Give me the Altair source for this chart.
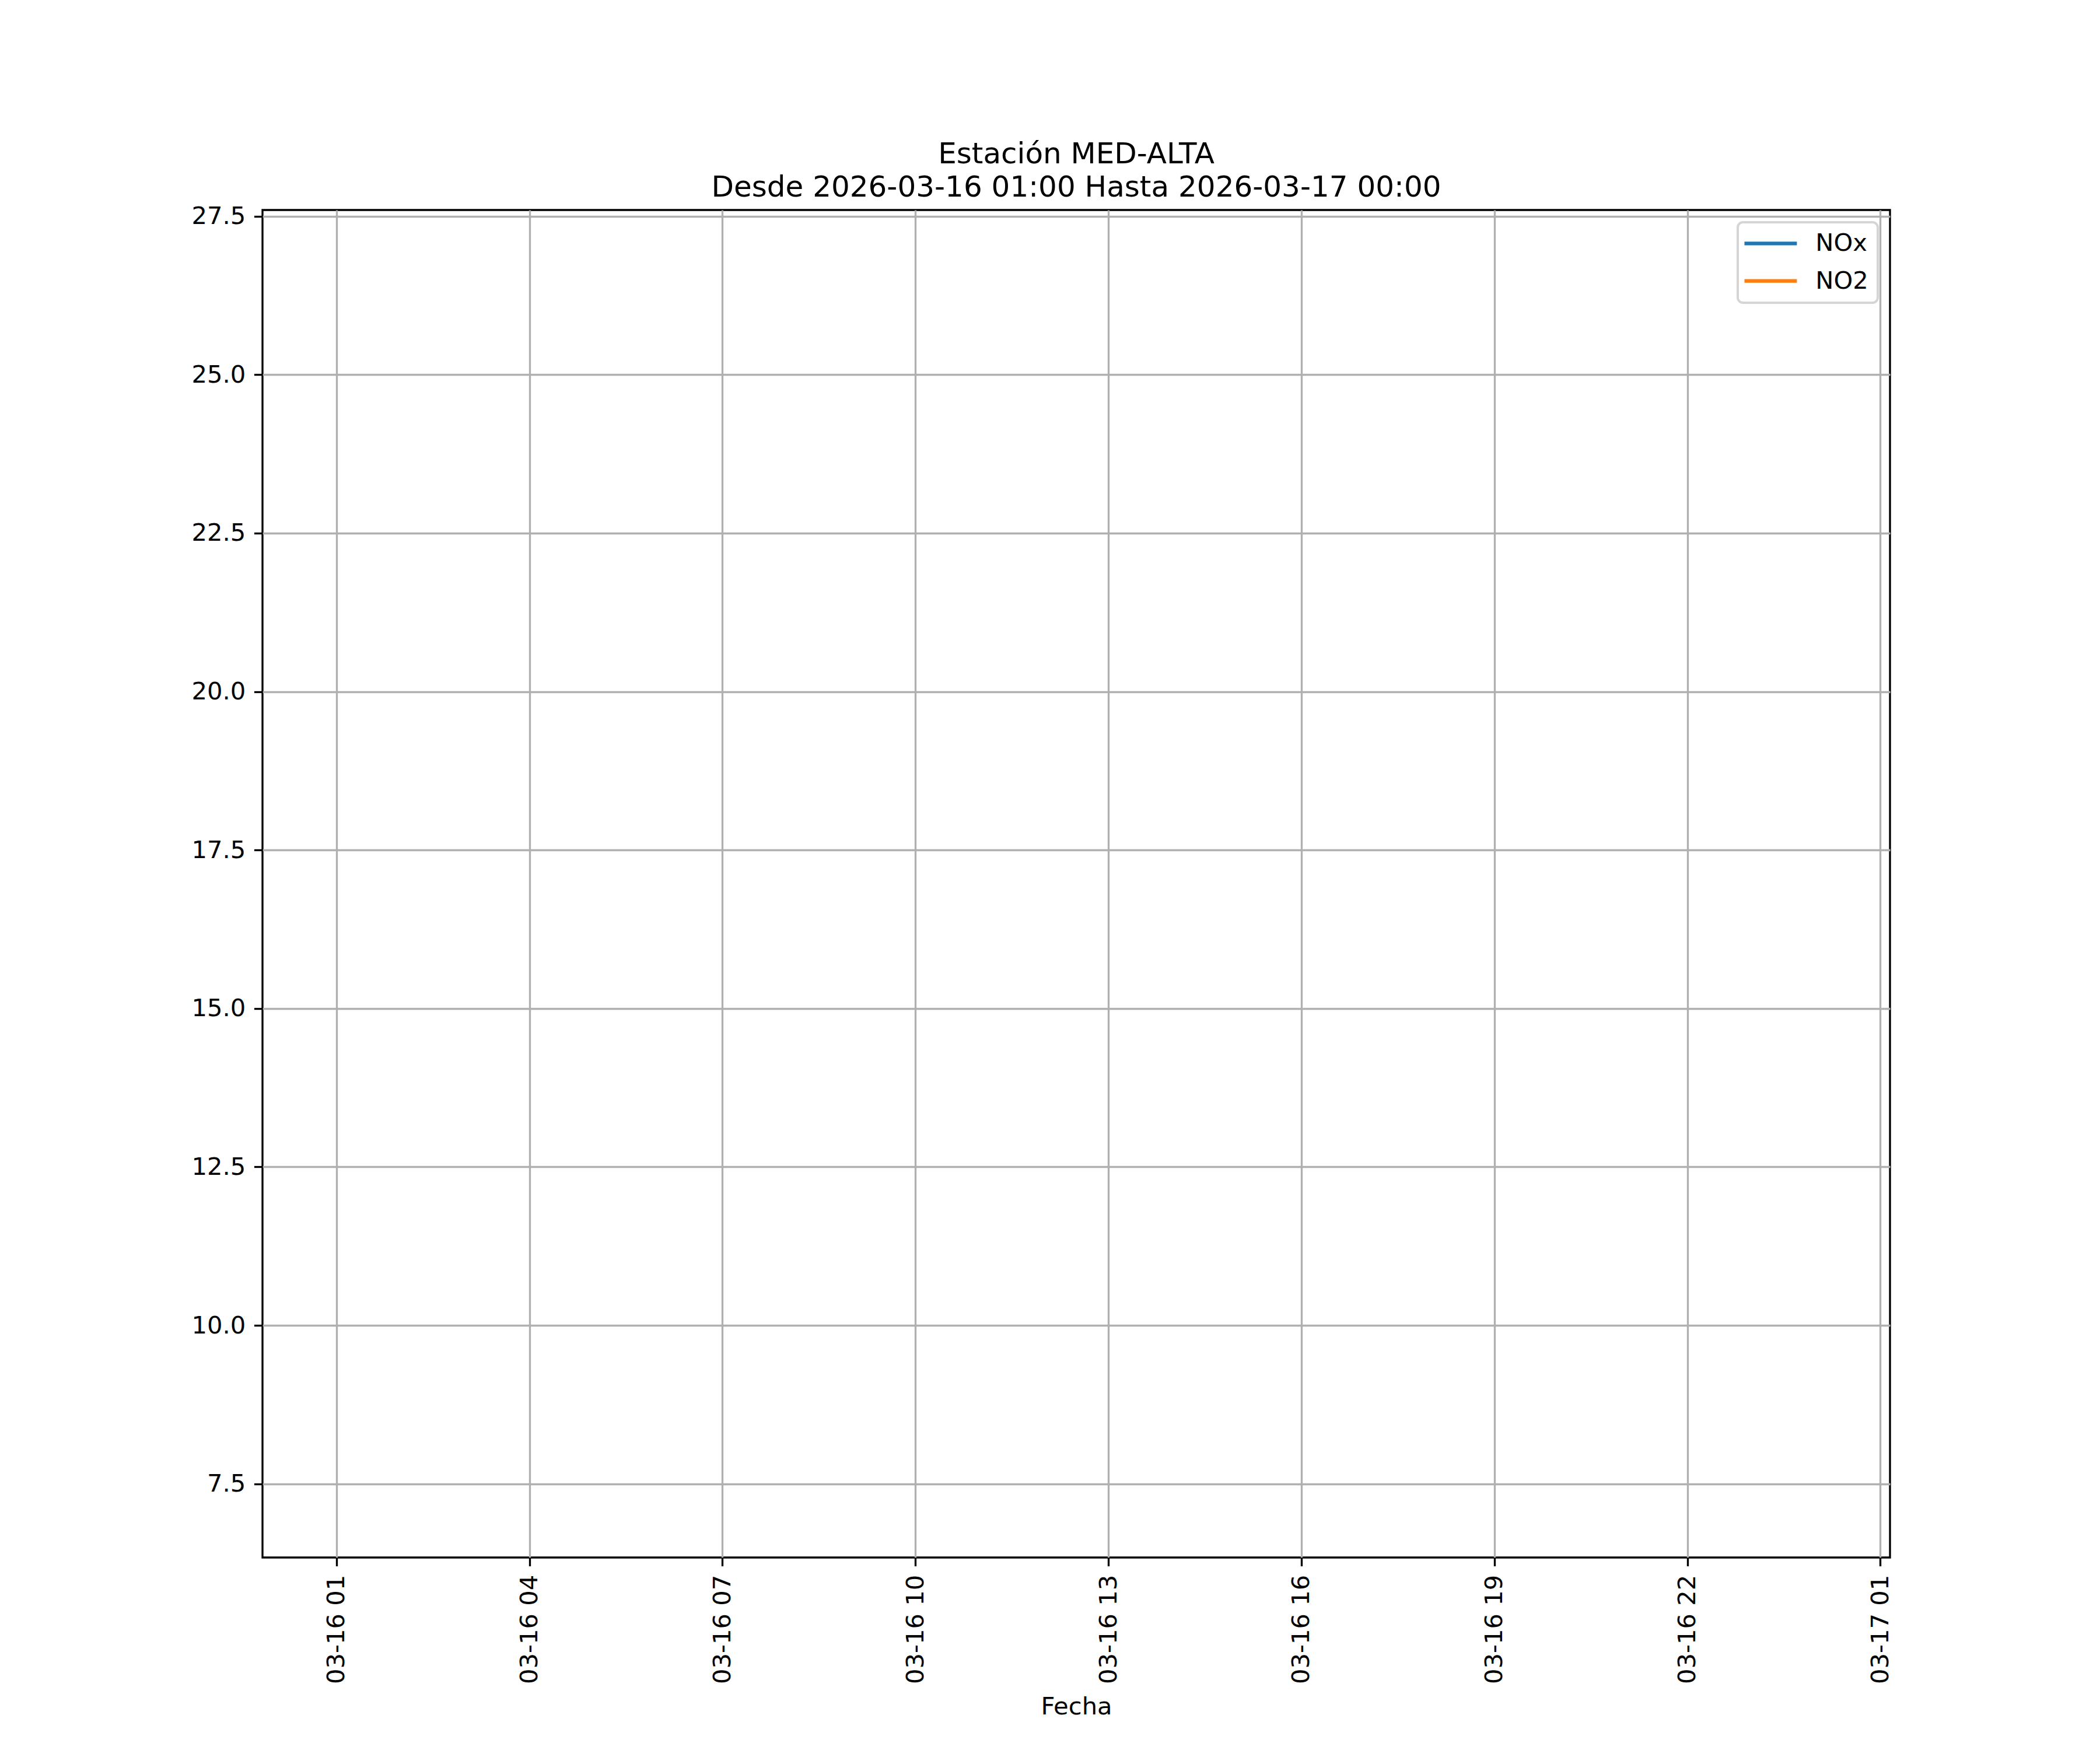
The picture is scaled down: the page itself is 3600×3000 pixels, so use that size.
import altair as alt
import pandas as pd

# ---- data (no line segments are visible) ----
fechas = [
    "2026-03-16T01:00:00", "2026-03-16T02:00:00", "2026-03-16T03:00:00",
    "2026-03-16T04:00:00", "2026-03-16T05:00:00", "2026-03-16T06:00:00",
    "2026-03-16T07:00:00", "2026-03-16T08:00:00", "2026-03-16T09:00:00",
    "2026-03-16T10:00:00", "2026-03-16T11:00:00", "2026-03-16T12:00:00",
    "2026-03-16T13:00:00", "2026-03-16T14:00:00", "2026-03-16T15:00:00",
    "2026-03-16T16:00:00", "2026-03-16T17:00:00", "2026-03-16T18:00:00",
    "2026-03-16T19:00:00", "2026-03-16T20:00:00", "2026-03-16T21:00:00",
    "2026-03-16T22:00:00", "2026-03-16T23:00:00", "2026-03-17T00:00:00",
]
nox = [None, None, None, None, None, None, None, None, None, None, None, None,
       None, None, None, None, None, None, None, None, None, None, None, None]
no2 = [None, None, None, None, None, None, None, None, None, None, None, None,
       None, None, None, None, None, None, None, None, None, None, None, None]

series = ["NOx", "NO2"]
colores = ["#1f77b4", "#ff7f0e"]

x_ticks = ["2026-03-16 01:00", "2026-03-16 04:00", "2026-03-16 07:00",
           "2026-03-16 10:00", "2026-03-16 13:00", "2026-03-16 16:00",
           "2026-03-16 19:00", "2026-03-16 22:00", "2026-03-17 01:00"]
x_domain = ["2026-03-15 23:51", "2026-03-17 01:09"]
y_ticks = [7.5, 10.0, 12.5, 15.0, 17.5, 20.0, 22.5, 25.0, 27.5]
y_domain = [6.337, 27.598]

titulo = ["Estación MED-ALTA", "Desde 2026-03-16 01:00 Hasta 2026-03-17 00:00"]


def to_dt(s):
    t = pd.Timestamp(s)
    return alt.DateTime(year=t.year, month=t.month, date=t.day,
                        hours=t.hour, minutes=t.minute)


df = pd.DataFrame({
    "fecha": fechas * 2,
    "serie": [series[0]] * len(fechas) + [series[1]] * len(fechas),
    "valor": nox + no2,
})
df["fecha"] = pd.to_datetime(df["fecha"])
df["valor"] = df["valor"].astype("float")

FONT = "DejaVu Sans"
PX = 300 / 72  # matplotlib points -> pixels at 300 dpi

lines = alt.Chart(df).mark_line(strokeWidth=1.5 * PX).encode(
    x=alt.X(
        "fecha:T",
        title="Fecha",
        scale=alt.Scale(domain=[to_dt(v) for v in x_domain], nice=False),
        axis=alt.Axis(
            values=[to_dt(v) for v in x_ticks],
            format="%m-%d %H",
            labelAngle=270,
            labelAlign="right",
            labelBaseline="middle",
            labelLimit=1000,
            titlePadding=35,
        ),
    ),
    y=alt.Y(
        "valor:Q",
        title=None,
        scale=alt.Scale(domain=y_domain, nice=False, zero=False),
        axis=alt.Axis(values=y_ticks, format=".1f"),
    ),
    color=alt.Color(
        "serie:N",
        scale=alt.Scale(domain=series, range=colores),
        legend=alt.Legend(
            title=None,
            orient="top-right",
            offset=21,
            symbolType="M-3.25,0H3.25",
            symbolSize=765,
            symbolStrokeWidth=1.5 * PX,
            symbolOffset=20,
            labelOffset=56,
            labelFontSize=10 * PX,
            labelFont=FONT,
            labelColor="black",
            padding=15.6,
            rowPadding=21.3,
            strokeColor="#d5d5d5",
            fillColor="rgba(255,255,255,0.8)",
            cornerRadius=9,
        ),
    ),
)

chart = alt.layer(lines).properties(
    width=2790,
    height=2310,
    title=alt.Title(
        text=titulo,
        fontSize=12 * PX,
        font=FONT,
        fontWeight="normal",
        color="black",
        lineHeight=57,
        baseline="bottom",
        anchor="middle",
        offset=-46,
    ),
    autosize=alt.AutoSizeParams(type="none"),
    padding={"left": 442, "top": 352, "right": 350, "bottom": 320},
).configure(
    font=FONT,
).configure_view(
    stroke="black",
    strokeWidth=0.8 * PX,
).configure_axis(
    domain=False,
    grid=True,
    gridColor="#b0b0b0",
    gridWidth=0.8 * PX,
    gridOpacity=1,
    ticks=True,
    tickColor="black",
    tickWidth=0.8 * PX,
    tickSize=3.5 * PX,
    labelPadding=3.5 * PX,
    labelFontSize=10 * PX,
    labelFont=FONT,
    labelColor="black",
    labelFlush=False,
    labelOverlap=False,
    titleFontSize=10 * PX,
    titleFont=FONT,
    titleFontWeight="normal",
    titleColor="black",
).configure_legend(
    strokeWidth=4,
)

chart.save("out.html", embed_options={"renderer": "svg", "actions": False})
